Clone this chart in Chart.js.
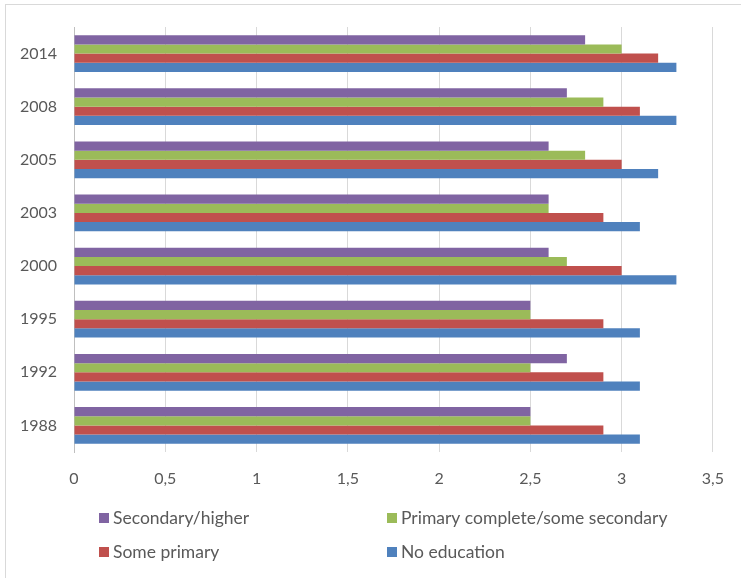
<!DOCTYPE html>
<html lang="en">

<head>
    <meta charset="UTF-8">
    <title>Education chart</title>
    <script src="https://cdn.jsdelivr.net/npm/chart.js"></script>
    <style>
        html, body {
            margin: 0;
            padding: 0;
            background: #ffffff;
            overflow: hidden;
        }

        .frame {
            position: absolute;
            left: 5px;
            top: 4px;
            width: 800px;
            height: 700px;
            border-left: 1px solid #d9d9d9;
            border-top: 1px solid #d9d9d9;
        }

        .wrap {
            position: absolute;
            left: 0;
            top: 0;
            width: 741px;
            height: 578px;
        }
    </style>
</head>

<body>
    <div class="frame"></div>
    <div class="wrap"><canvas id="eduChart" width="741" height="578"></canvas></div>

    <script>
        const years = ['2014', '2008', '2005', '2003', '2000', '1995', '1992', '1988'];
        const seriesNames = ['Secondary/higher', 'Primary complete/some secondary', 'Some primary', 'No education'];
        const secondaryHigher = [2.8, 2.7, 2.6, 2.6, 2.6, 2.5, 2.7, 2.5];
        const primaryComplete = [3.0, 2.9, 2.8, 2.6, 2.7, 2.5, 2.5, 2.5];
        const somePrimary = [3.2, 3.1, 3.0, 2.9, 3.0, 2.9, 2.9, 2.9];
        const noEducation = [3.3, 3.3, 3.2, 3.1, 3.3, 3.1, 3.1, 3.1];
        const seriesColors = ['#8064a2', '#9bbb59', '#c0504d', '#4f81bd'];

        const textColor = '#595959';
        const fontFamily = 'Lato, "Open Sans", sans-serif';

        // two column legend under the plot, same order as the datasets
        const gridLegend = {
            id: 'gridLegend',
            afterDraw(chart) {
                const ctx = chart.ctx;
                const cols = [99, 387];
                const rows = [518, 552];
                ctx.save();
                ctx.font = '17.5px ' + fontFamily;
                ctx.textBaseline = 'middle';
                ctx.textAlign = 'left';
                chart.data.datasets.forEach((ds, i) => {
                    const x = cols[i % 2];
                    const y = rows[Math.floor(i / 2)];
                    ctx.fillStyle = ds.backgroundColor;
                    ctx.fillRect(x, y - 5, 10, 10);
                    ctx.fillStyle = textColor;
                    ctx.fillText(ds.label, x + 14, y);
                });
                ctx.restore();
            }
        };

        const allValues = [secondaryHigher, primaryComplete, somePrimary, noEducation];

        new Chart(document.getElementById('eduChart'), {
            type: 'bar',
            data: {
                labels: years,
                datasets: allValues.map((vals, i) => ({
                    label: seriesNames[i],
                    data: vals,
                    backgroundColor: seriesColors[i],
                    borderWidth: 0,
                    categoryPercentage: 0.69,
                    barPercentage: 1.0
                }))
            },
            options: {
                indexAxis: 'y',
                responsive: false,
                animation: false,
                layout: {
                    padding: { top: 27, right: 24, bottom: 86, left: 0 }
                },
                plugins: {
                    legend: { display: false },
                    tooltip: { enabled: false }
                },
                scales: {
                    x: {
                        min: 0,
                        max: 3.5,
                        ticks: {
                            stepSize: 0.5,
                            color: textColor,
                            font: { family: fontFamily, size: 16 },
                            padding: 17,
                            callback: v => String(v).replace('.', ',')
                        },
                        grid: { color: '#d9d9d9', drawTicks: false },
                        border: { display: false },
                        afterFit: s => { s.height = 40; }
                    },
                    y: {
                        ticks: {
                            color: textColor,
                            font: { family: fontFamily, size: 16 },
                            padding: 17
                        },
                        grid: { display: false, drawTicks: false },
                        border: { display: true, color: '#bfbfbf' },
                        afterFit: s => { s.width = 74; }
                    }
                }
            },
            plugins: [gridLegend]
        });
    </script>
</body>

</html>
